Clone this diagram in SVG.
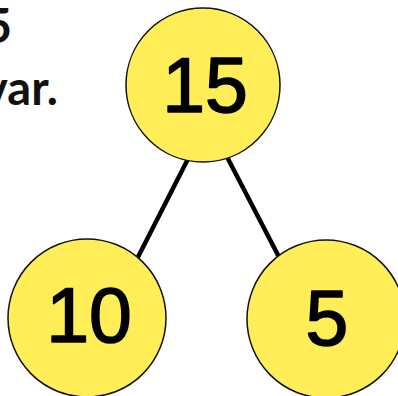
<svg xmlns="http://www.w3.org/2000/svg" width="398" height="396" viewBox="0 0 398 396">
  <style>
    .node { fill: #FFEE58; stroke: #111; stroke-width: 1.5; }
    .num { font-family: "Liberation Sans", Arial, sans-serif; font-size: 77px; fill: #000; stroke: #000; stroke-width: 1.6; stroke-linejoin: round; text-anchor: middle; }
    .edge { stroke: #000; stroke-width: 4.5; stroke-linecap: round; }
    .cap { font-family: Lato, "DejaVu Sans", sans-serif; font-weight: bold; font-size: 47px; fill: #111; text-anchor: end; }
  </style>
  <rect width="398" height="396" fill="#fff"/>
  <g id="caption">
    <text class="cap" x="12" y="43">5</text>
    <text class="cap" x="58" y="105">var.</text>
  </g>
  <g id="connectors">
    <line class="edge" x1="190" y1="155" x2="138" y2="257"/>
    <line class="edge" x1="226" y1="155" x2="279" y2="257"/>
  </g>
  <g id="node-15">
    <circle class="node" cx="203" cy="85" r="77"/>
    <text class="num" x="205" y="112">15</text>
  </g>
  <g id="node-10">
    <circle class="node" cx="87" cy="318" r="79"/>
    <text class="num" x="89" y="342">10</text>
  </g>
  <g id="node-5">
    <circle class="node" cx="326" cy="319" r="79"/>
    <text class="num" x="327" y="345">5</text>
  </g>
</svg>
